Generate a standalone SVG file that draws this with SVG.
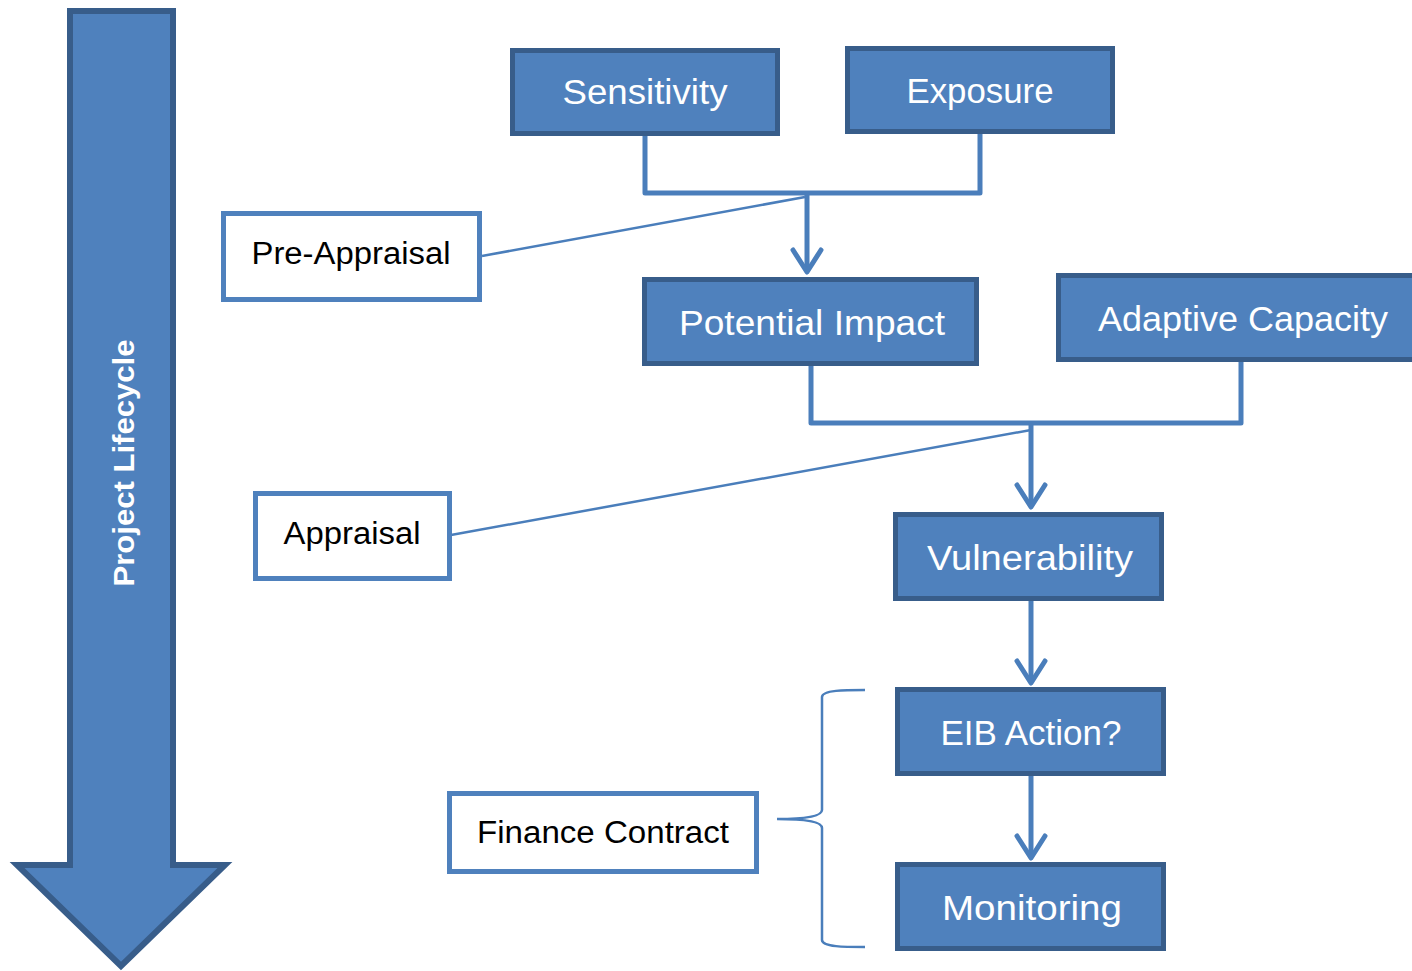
<svg xmlns="http://www.w3.org/2000/svg" width="1412" height="971" viewBox="0 0 1412 971">
<style>
.box{fill:#4F81BD;stroke:#385D8A;stroke-width:5}
.wbox{fill:#FFFFFF;stroke:#4F81BD;stroke-width:5}
.t{font-family:"Liberation Sans",Arial,sans-serif;font-size:35px;fill:#FFFFFF;text-anchor:middle}
.bt{font-family:"Liberation Sans",Arial,sans-serif;font-size:31px;fill:#000000;text-anchor:middle}
.c{fill:none;stroke:#4A7EBB;stroke-width:5;stroke-linejoin:round}
.thin{fill:none;stroke:#4A7EBB;stroke-width:2.5}
.head{fill:none;stroke:#4A7EBB;stroke-width:5;stroke-linecap:round;stroke-linejoin:round}
</style>
<rect width="1412" height="971" fill="#FFFFFF"/>
<g id="lifecycle">
<path d="M70,11 L173,11 L173,865 L225,865 L121,966 L17,865 L70,865 Z" fill="#4F81BD" stroke="#385D8A" stroke-width="6" stroke-linejoin="miter"/>
<text transform="translate(134,463) rotate(-90)" font-family="Liberation Sans,Arial,sans-serif" font-size="30" font-weight="bold" fill="#FFFFFF" text-anchor="middle" textLength="247" lengthAdjust="spacingAndGlyphs">Project Lifecycle</text>
</g>
<g id="connectors">
<path class="c" d="M645,135 L645,193 L980,193 L980,133"/>
<path class="c" d="M807,193 L807,272"/>
<path class="head" d="M793,250 L807,272 L821,250"/>
<path class="c" d="M811,365 L811,423 L1241,423 L1241,361"/>
<path class="c" d="M1031,423 L1031,507"/>
<path class="head" d="M1017,485 L1031,507 L1045,485"/>
<path class="c" d="M1031,600 L1031,683"/>
<path class="head" d="M1017,661 L1031,683 L1045,661"/>
<path class="c" d="M1031,775 L1031,858"/>
<path class="head" d="M1017,836 L1031,858 L1045,836"/>
<path class="thin" d="M482,256 L805,197"/>
<path class="thin" d="M451,535 L1031,430"/>
<path class="thin" d="M865,690 C845,690 822,690 822,697 L822,810 C822,817 800,819 777,819 C800,819 822,821 822,828 L822,940 C822,947 845,947 865,947"/>
</g>
<g id="sensitivity"><rect class="box" x="512.5" y="50.5" width="265" height="83"/><text class="t" x="645" y="104" textLength="165" lengthAdjust="spacingAndGlyphs">Sensitivity</text></g>
<g id="exposure"><rect class="box" x="847.5" y="48.5" width="265" height="83"/><text class="t" x="980" y="103" textLength="147" lengthAdjust="spacingAndGlyphs">Exposure</text></g>
<g id="potential-impact"><rect class="box" x="644.5" y="279.5" width="332" height="84"/><text class="t" x="812" y="335" textLength="266" lengthAdjust="spacingAndGlyphs">Potential Impact</text></g>
<g id="adaptive-capacity"><rect class="box" x="1058.5" y="275.5" width="360" height="84"/><text class="t" x="1243" y="331" textLength="290" lengthAdjust="spacingAndGlyphs">Adaptive Capacity</text></g>
<g id="vulnerability"><rect class="box" x="895.5" y="514.5" width="266" height="84"/><text class="t" x="1030" y="570" textLength="206" lengthAdjust="spacingAndGlyphs">Vulnerability</text></g>
<g id="eib-action"><rect class="box" x="897.5" y="689.5" width="266" height="84"/><text class="t" x="1031" y="745" textLength="181" lengthAdjust="spacingAndGlyphs">EIB Action?</text></g>
<g id="monitoring"><rect class="box" x="897.5" y="864.5" width="266" height="84"/><text class="t" x="1032" y="920" textLength="180" lengthAdjust="spacingAndGlyphs">Monitoring</text></g>
<g id="pre-appraisal"><rect class="wbox" x="223.5" y="213.5" width="256" height="86"/><text class="bt" x="351" y="264" textLength="199" lengthAdjust="spacingAndGlyphs">Pre-Appraisal</text></g>
<g id="appraisal"><rect class="wbox" x="255.5" y="493.5" width="194" height="85"/><text class="bt" x="352" y="544" textLength="137" lengthAdjust="spacingAndGlyphs">Appraisal</text></g>
<g id="finance-contract"><rect class="wbox" x="449.5" y="793.5" width="307" height="78"/><text class="bt" x="603" y="843" textLength="252" lengthAdjust="spacingAndGlyphs">Finance Contract</text></g>
</svg>
